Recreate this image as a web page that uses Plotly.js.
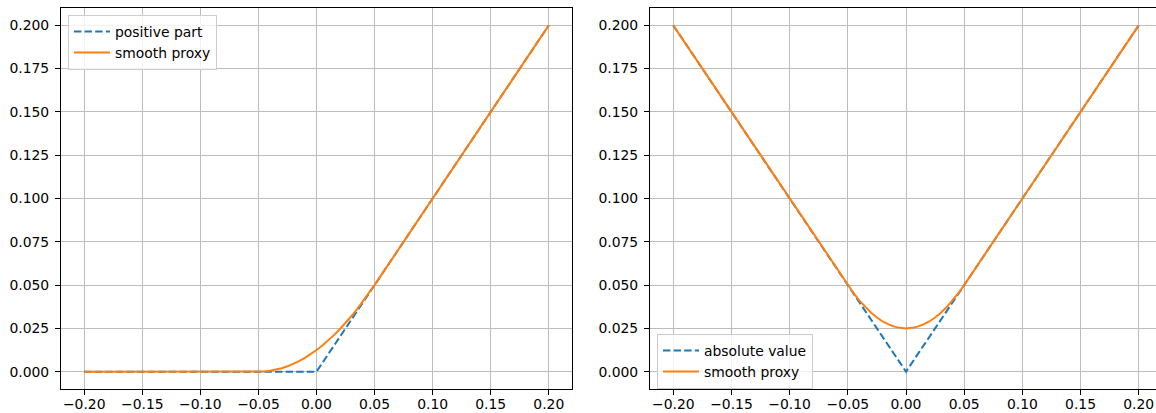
<!DOCTYPE html>
<html>
<head>
<meta charset="utf-8">
<script src="https://cdn.plot.ly/plotly-3.0.1.min.js"></script>
<style>
html,body{margin:0;padding:0;overflow:hidden;background:#fff;}
#chart{width:1170px;height:413px;}
</style>
</head>
<body>
<div id="chart"></div>
<script>
// ---- data ----
const posX = [-0.20, 0.00, 0.20];
const posY = [0.000, 0.000, 0.200];

const smoothPosX = [-0.20, -0.05, -0.045, -0.04, -0.035, -0.03, -0.025, -0.02, -0.015, -0.01, -0.005, 0.00,
                    0.005, 0.01, 0.015, 0.02, 0.025, 0.03, 0.035, 0.04, 0.045, 0.05, 0.20];
const smoothPosY = [0.000, 0.000, 0.0001, 0.0005, 0.0011, 0.0020, 0.0031, 0.0045, 0.0061, 0.0080, 0.0101, 0.0125,
                    0.0151, 0.0180, 0.0211, 0.0245, 0.0281, 0.0320, 0.0361, 0.0405, 0.0451, 0.0500, 0.200];

const absX = [-0.20, 0.00, 0.20];
const absY = [0.200, 0.000, 0.200];

const smoothAbsX = [-0.20, -0.05, -0.045, -0.04, -0.035, -0.03, -0.025, -0.02, -0.015, -0.01, -0.005, 0.00,
                    0.005, 0.01, 0.015, 0.02, 0.025, 0.03, 0.035, 0.04, 0.045, 0.05, 0.20];
const smoothAbsY = [0.200, 0.0500, 0.0453, 0.0410, 0.0373, 0.0340, 0.0313, 0.0290, 0.0273, 0.0260, 0.0253, 0.0250,
                    0.0253, 0.0260, 0.0273, 0.0290, 0.0313, 0.0340, 0.0373, 0.0410, 0.0453, 0.0500, 0.200];

const xTickVals = [-0.20, -0.15, -0.10, -0.05, 0.00, 0.05, 0.10, 0.15, 0.20];
const xTickText = ["\u22120.20", "\u22120.15", "\u22120.10", "\u22120.05", "0.00", "0.05", "0.10", "0.15", "0.20"];
const yTickVals = [0.000, 0.025, 0.050, 0.075, 0.100, 0.125, 0.150, 0.175, 0.200];
const yTickText = ["0.000", "0.025", "0.050", "0.075", "0.100", "0.125", "0.150", "0.175", "0.200"];

// ---- styling ----
const W = 1170, H = 413;
const FONT = {family: "DejaVu Sans", size: 13.9, color: "#000"};
const BLUE = "#1f77b4", ORANGE = "#ff7f0e";
const GRID = "#bdbdbd";
const dash = "7.4px,3.2px";

const traces = [
  {x: posX, y: posY, type: "scatter", mode: "lines", name: "positive part",
   line: {color: BLUE, width: 2, dash: dash}, xaxis: "x", yaxis: "y", legend: "legend"},
  {x: smoothPosX, y: smoothPosY, type: "scatter", mode: "lines", name: "smooth proxy",
   line: {color: ORANGE, width: 2}, xaxis: "x", yaxis: "y", legend: "legend"},
  {x: absX, y: absY, type: "scatter", mode: "lines", name: "absolute value",
   line: {color: BLUE, width: 2, dash: dash}, xaxis: "x2", yaxis: "y2", legend: "legend2"},
  {x: smoothAbsX, y: smoothAbsY, type: "scatter", mode: "lines", name: "smooth proxy",
   line: {color: ORANGE, width: 2}, xaxis: "x2", yaxis: "y2", legend: "legend2"}
];

function xaxis(d0, d1, anchor) {
  return {
    domain: [d0 / W, d1 / W], anchor: anchor, range: [-0.22, 0.22],
    tickmode: "array", tickvals: xTickVals, ticktext: xTickText,
    ticks: "outside", ticklen: 5, tickwidth: 1, tickcolor: "#000",
    ticklabelstandoff: -3,
    showline: true, linecolor: "#000", linewidth: 1, mirror: true,
    showgrid: true, gridcolor: GRID, gridwidth: 1,
    zeroline: false,
    tickfont: FONT, fixedrange: true
  };
}
function yaxis(anchor) {
  return {
    domain: [1 - 389 / H, 1 - 8 / H], anchor: anchor, range: [-0.01, 0.21],
    tickmode: "array", tickvals: yTickVals, ticktext: yTickText,
    ticks: "outside", ticklen: 5, tickwidth: 1, tickcolor: "#000",
    ticklabelstandoff: 3,
    showline: true, linecolor: "#000", linewidth: 1, mirror: true,
    showgrid: true, gridcolor: GRID, gridwidth: 1,
    zeroline: false,
    tickfont: FONT, fixedrange: true
  };
}

const legendBase = {
  bgcolor: "rgba(255,255,255,0.8)", bordercolor: "#cccccc", borderwidth: 1,
  font: FONT, itemwidth: 36, tracegroupgap: 0,
  xanchor: "left", yanchor: "top", xref: "paper", yref: "paper"
};

const layout = {
  width: W, height: H,
  margin: {l: 0, r: 0, t: 0, b: 0},
  paper_bgcolor: "#fff", plot_bgcolor: "#fff",
  showlegend: true,
  font: FONT,
  xaxis: xaxis(61, 572, "y"),
  yaxis: yaxis("x"),
  xaxis2: xaxis(650, 1162, "y2"),
  yaxis2: yaxis("x2"),
  legend: Object.assign({}, legendBase, {x: 68 / W, y: 1 - 15 / H}),
  legend2: Object.assign({}, legendBase, {x: 657 / W, y: 1 - 334 / H})
};

Plotly.newPlot("chart", traces, layout, {displayModeBar: false, staticPlot: true});
</script>
</body>
</html>
